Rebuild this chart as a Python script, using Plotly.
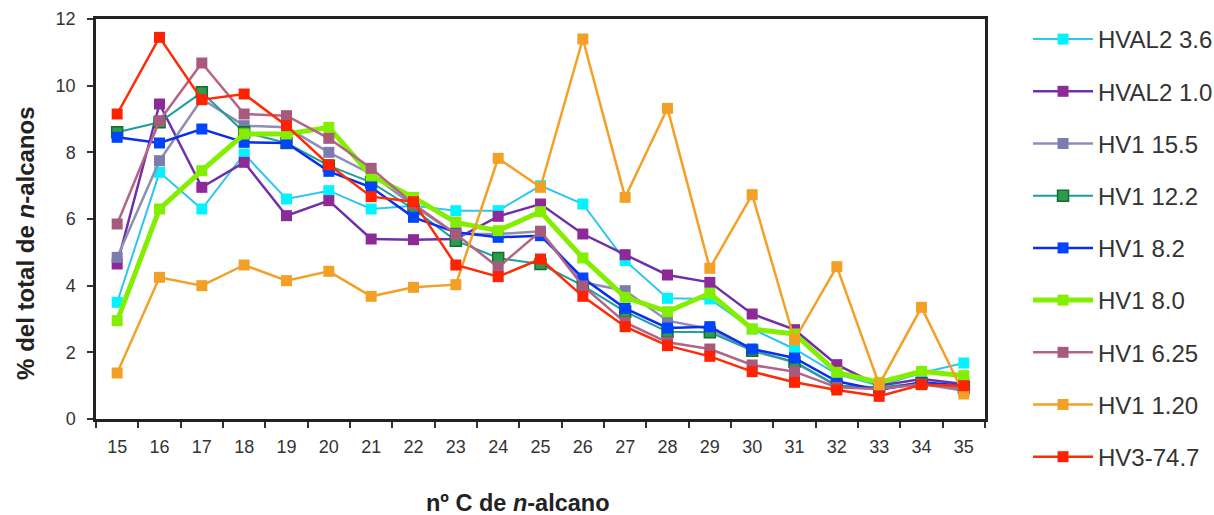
import plotly.graph_objects as go

carbons = [str(c) for c in range(15, 36)]

hval2_36 = [3.5, 7.4, 6.3, 7.95, 6.6, 6.85, 6.3, 6.4, 6.25, 6.25, 7.0, 6.45, 4.75, 3.62, 3.6, 2.7, 2.1, 1.35, 1.0, 1.38, 1.68]
hval2_10 = [4.65, 9.45, 6.95, 7.7, 6.1, 6.55, 5.4, 5.38, 5.4, 6.08, 6.45, 5.55, 4.93, 4.32, 4.1, 3.15, 2.68, 1.63, 1.0, 1.2, 1.05]
hv1_155 = [4.85, 7.75, 9.6, 8.8, 8.75, 8.0, 7.35, 6.4, 5.55, 5.55, 5.63, 4.1, 3.85, 2.95, 2.7, 2.05, 1.7, 1.0, 0.9, 1.05, 0.85]
hv1_122 = [8.6, 8.9, 9.8, 8.6, 8.28, 7.6, 7.1, 6.3, 5.35, 4.83, 4.65, 4.0, 3.22, 2.62, 2.6, 2.05, 1.72, 1.0, 0.95, 1.08, 0.95]
hv1_82 = [8.45, 8.28, 8.7, 8.3, 8.28, 7.43, 6.95, 6.05, 5.6, 5.45, 5.5, 4.23, 3.32, 2.73, 2.77, 2.1, 1.83, 1.13, 0.87, 1.1, 1.0]
hv1_80 = [2.95, 6.3, 7.45, 8.55, 8.55, 8.75, 7.3, 6.65, 5.9, 5.65, 6.22, 4.83, 3.65, 3.22, 3.77, 2.7, 2.55, 1.4, 1.1, 1.43, 1.3]
hv1_625 = [5.85, 8.95, 10.68, 9.15, 9.1, 8.42, 7.52, 6.45, 5.55, 4.55, 5.63, 3.99, 2.9, 2.3, 2.1, 1.62, 1.42, 0.95, 0.9, 1.05, 0.9]
hv1_120 = [1.38, 4.25, 4.0, 4.62, 4.15, 4.43, 3.68, 3.95, 4.03, 7.82, 6.95, 11.4, 6.65, 9.32, 4.52, 6.73, 2.37, 4.57, 1.03, 3.35, 0.75]
hv3_747 = [9.15, 11.45, 9.58, 9.75, 8.8, 7.63, 6.67, 6.52, 4.62, 4.27, 4.8, 3.68, 2.77, 2.2, 1.88, 1.42, 1.1, 0.87, 0.68, 1.03, 1.0]

series_names = ["HVAL2 3.6", "HVAL2 1.0", "HV1 15.5", "HV1 12.2", "HV1 8.2",
                "HV1 8.0", "HV1 6.25", "HV1 1.20", "HV3-74.7"]
series_values = [hval2_36, hval2_10, hv1_155, hv1_122, hv1_82, hv1_80, hv1_625, hv1_120, hv3_747]
line_colors = ["#2CC6EE", "#7030A8", "#8E8EB8", "#1E9E9E", "#0A2EF0",
               "#84EE00", "#B46486", "#F2A126", "#FF2A06"]
marker_colors = ["#00F4FF", "#8E2A98", "#7C7CAE", "#2E9A50", "#0044FF",
                 "#84EE00", "#A85A7C", "#F2A126", "#FF2200"]
marker_lines = ["#00F4FF", "#8E2A98", "#7C7CAE", "#10702A", "#0044FF",
                "#84EE00", "#A85A7C", "#F2A126", "#FF2200"]
line_widths = [2, 2.5, 2.5, 2, 2.5, 5, 2.5, 2.5, 2.5]

fig = go.Figure()
for i, (name, vals) in enumerate(zip(series_names, series_values)):
    fig.add_trace(go.Scatter(
        x=carbons, y=vals, name=name, mode="lines+markers",
        legendgroup=name,
        line=dict(color=line_colors[i], width=line_widths[i]),
        marker=dict(symbol="square", size=11, color=marker_colors[i],
                    line=dict(color=marker_lines[i], width=1.5 if i == 3 else 0)),
    ))

font_fam = "Liberation Sans, Arial, sans-serif"
fig.update_layout(
    width=1214, height=515,
    margin=dict(l=96, r=229, t=19, b=96, autoexpand=False),
    paper_bgcolor="white", plot_bgcolor="white",
    font=dict(family=font_fam, size=18, color="#333333"),
    showlegend=True,
    legend=dict(x=1.0484, y=1.005, xanchor="left", yanchor="top",
                font=dict(size=24, color="#333333", family=font_fam),
                itemwidth=60, tracegroupgap=18, traceorder="grouped",
                maxheight=1000,
                bgcolor="rgba(0,0,0,0)"),
    xaxis=dict(type="category", range=[-0.5, 20.5], autorange=False,
               showline=True, linecolor="#222222", linewidth=2.5,
               mirror=True, ticks="outside", ticklen=6, tickcolor="#333333",
               tickwidth=1.5, tickson="boundaries", showgrid=False,
               ticklabelstandoff=10, automargin=False,
               tickfont=dict(size=18, color="#333333")),
    yaxis=dict(range=[0, 12], dtick=2, showline=True, linecolor="#222222",
               linewidth=2.5, mirror=True, ticks="outside", ticklen=6,
               tickcolor="#333333", tickwidth=1.5, showgrid=False,
               ticklabelstandoff=8, automargin=False,
               zeroline=False, tickfont=dict(size=18, color="#333333")),
    annotations=[
        dict(text="<b>% del total de <i>n</i>-alcanos</b>", xref="paper", yref="paper",
             x=-0.080, y=0.44, xanchor="center", yanchor="middle", textangle=-90,
             showarrow=False, font=dict(size=24, color="#222222", family=font_fam)),
        dict(text="<b>nº C de <i>n</i>-alcano</b>", xref="paper", yref="paper",
             x=0.4747, y=-0.21, xanchor="center", yanchor="middle",
             showarrow=False, font=dict(size=23.5, color="#222222", family=font_fam)),
    ],
)

fig.write_html("out.html")
